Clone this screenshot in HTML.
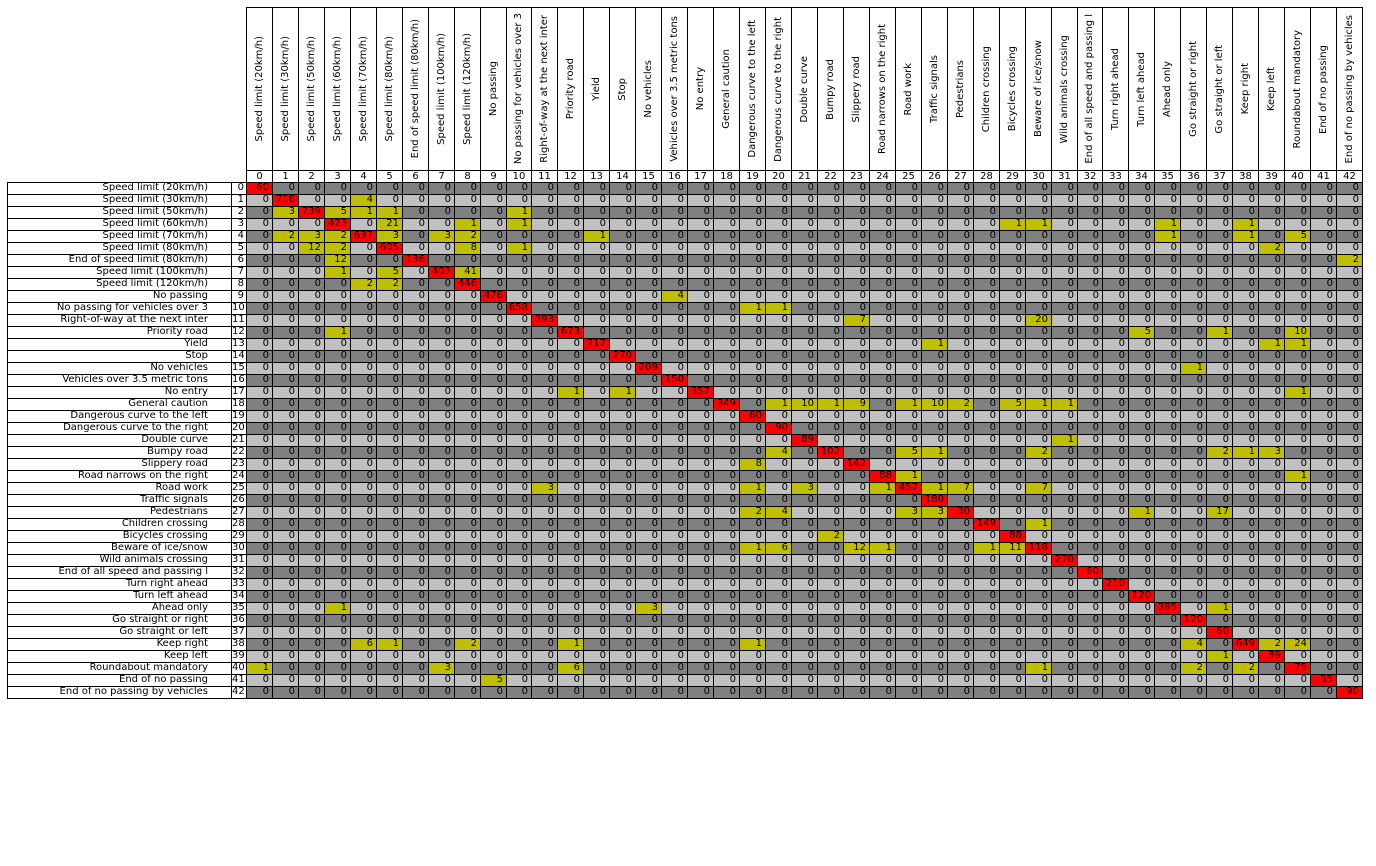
<!DOCTYPE html>
<html><head><meta charset="utf-8"><style>
body{margin:0;background:#fff;width:1376px;height:866px;position:relative;overflow:hidden;font-family:"DejaVu Sans","Liberation Sans",sans-serif;font-size:10px;color:#000}
.c{position:absolute;box-sizing:border-box;border:1px solid #000;line-height:10px;white-space:nowrap;overflow:hidden}
.v{text-align:right;padding-right:3px}
.h{display:flex;align-items:center;justify-content:center}
.h span{writing-mode:vertical-rl;transform:rotate(180deg)}
</style></head><body>
<div id="chart"></div>
<script>
const labels=["Speed limit (20km/h)","Speed limit (30km/h)","Speed limit (50km/h)","Speed limit (60km/h)","Speed limit (70km/h)","Speed limit (80km/h)","End of speed limit (80km/h)","Speed limit (100km/h)","Speed limit (120km/h)","No passing","No passing for vehicles over 3","Right-of-way at the next inter","Priority road","Yield","Stop","No vehicles","Vehicles over 3.5 metric tons ","No entry","General caution","Dangerous curve to the left","Dangerous curve to the right","Double curve","Bumpy road","Slippery road","Road narrows on the right","Road work","Traffic signals","Pedestrians","Children crossing","Bicycles crossing","Beware of ice/snow","Wild animals crossing","End of all speed and passing l","Turn right ahead","Turn left ahead","Ahead only","Go straight or right","Go straight or left","Keep right","Keep left","Roundabout mandatory","End of no passing","End of no passing by vehicles"];
// non-zero entries per row: [col, value, col, value, ...]
const nonzero=[
[0,60],[1,716,4,4],[1,3,2,739,3,5,4,1,5,1,10,1],
[3,423,5,21,8,1,10,1,29,1,30,1,35,1,38,1],
[1,2,2,3,3,2,4,637,5,3,7,3,8,2,13,1,35,1,38,1,40,5],
[2,12,3,2,5,605,8,8,10,1,39,2],[3,12,6,136,42,2],[3,1,5,5,7,403,8,41],[4,2,5,2,8,446],
[9,476,16,4],[10,658,19,1,20,1],[11,393,23,7,30,20],[3,1,12,673,34,5,37,1,40,10],
[13,717,26,1,39,1,40,1],[14,270],[15,209,36,1],[16,150],[12,1,14,1,17,357,40,1],
[18,349,20,1,21,10,22,1,23,9,25,1,26,10,27,2,29,5,30,1,31,1],
[19,60],[20,90],[21,89,31,1],[20,4,22,102,25,5,26,1,30,2,37,2,38,1,39,3],
[19,8,23,142],[24,88,25,1,40,1],[11,3,19,1,21,3,24,1,25,457,26,1,27,7,30,7],
[26,180],[19,2,20,4,25,3,26,3,27,30,34,1,37,17],[28,149,30,1],[22,2,29,88],
[19,1,20,6,23,12,24,1,28,1,29,11,30,118],[31,270],[32,60],[33,210],[34,120],
[3,1,15,3,35,385,37,1],[36,120],[37,60],
[4,6,5,1,8,2,12,1,19,1,36,4,38,649,39,2,40,24],[37,1,39,89],
[0,1,7,3,12,6,30,1,36,2,38,2,40,75],[9,5,41,55],[42,90]];
const N=labels.length,X0=246,CW=1116/N,Y0=182,RH=12;
const root=document.getElementById('chart');
function mk(cls,x,y,w,h,txt,bg){const d=document.createElement('div');d.className='c '+cls;d.style.left=x+'px';d.style.top=y+'px';d.style.width=w+'px';d.style.height=h+'px';if(bg)d.style.background=bg;if(txt!==null){d.textContent=txt}root.appendChild(d);return d;}
const colX=c=>X0+c*CW, rowY=r=>Y0+r*RH;
for(let c=0;c<N;c++){
  const x=Math.round(colX(c)),w=Math.round(colX(c+1))-x+1;
  const h=mk('h',x,7,w,164,null);
  
  
  const s=document.createElement('span');s.textContent=labels[c];h.appendChild(s);
  const i=mk('h',x,170,w,13,String(c));
  
  
}
for(let r=0;r<N;r++){
  const y=rowY(r);
  const vals=new Array(N).fill(0);const nz=nonzero[r];
  for(let k=0;k<nz.length;k+=2)vals[nz[k]]=nz[k+1];
  const l=mk('v',7,y,225,RH+1,labels[r]);l.style.paddingRight='23px';
  
  
  const ix=mk('v',231,y,16,RH+1,String(r));ix.style.paddingRight='2px';
  
  
  const zbg=r%2===0?'#808080':'#c0c0c0';
  for(let c=0;c<N;c++){
    const v=vals[c];const bg=c===r?'#ff0000':(v!==0?'#bfbf00':zbg);
    const x=Math.round(colX(c)),w=Math.round(colX(c+1))-x+1;
    const d=mk('v',x,y,w,RH+1,String(v),bg);
    
    
  }
}
</script>
</body></html>
